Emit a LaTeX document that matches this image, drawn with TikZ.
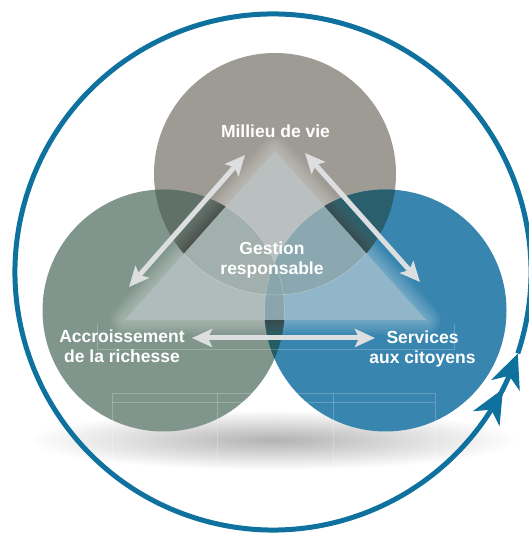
\documentclass[tikz,border=0pt]{standalone}
\usepackage{fontspec}
\setmainfont{Liberation Sans}
\usetikzlibrary{arrows.meta,bending}

\definecolor{ringblue}{RGB}{14,113,158}
\definecolor{viegray}{RGB}{158,155,148}
\definecolor{richgreen}{RGB}{128,150,140}
\definecolor{citblue}{RGB}{56,133,176}
\definecolor{vierich}{RGB}{96,114,104}
\definecolor{viecit}{RGB}{42,96,110}
\definecolor{richcit}{RGB}{38,92,100}
\definecolor{trifill}{RGB}{205,216,220}
\definecolor{linkgray}{RGB}{220,222,224}

\tikzset{
  txt/.style={text=white,font=\bfseries\fontsize{17.5}{20}\selectfont,align=center},
  link/.style={draw=linkgray,line width=5pt,
    {Stealth[length=20pt,width=18pt,inset=4pt]}-{Stealth[length=20pt,width=18pt,inset=4pt]}},
  faint/.style={draw=white,draw opacity=0.22,line width=0.6pt},
  bigring/.style={draw=ringblue,line width=5pt,
    -{Stealth[length=34pt,width=30pt,inset=10pt,sep=5pt]Stealth[length=34pt,width=30pt,inset=10pt]}}
}

\begin{document}
\begin{tikzpicture}[x=1pt,y=1pt]
  \useasboundingbox (0,0) rectangle (528,533);
  \coordinate (ctr) at (273,261);
  \coordinate (vie) at (275,359);
  \coordinate (rich) at (163.5,222.5);
  \coordinate (cit) at (385.5,222.5);
  \coordinate (tri-t) at (275,382);
  \coordinate (tri-l) at (125,213);
  \coordinate (tri-r) at (426,213);

  \shade[inner color=black!30,outer color=white] (273,93) ellipse[x radius=245,y radius=30];

  \fill[viegray] (vie) circle[radius=121];
  \fill[richgreen] (rich) circle[radius=121];
  \fill[citblue] (cit) circle[radius=121];
  \begin{scope}
    \clip (vie) circle[radius=121];
    \fill[vierich] (rich) circle[radius=121];
    \fill[viecit] (cit) circle[radius=121];
  \end{scope}
  \begin{scope}
    \clip (rich) circle[radius=121];
    \fill[richcit] (cit) circle[radius=121];
  \end{scope}

  \draw[faint] (97,209) -- (97,184) -- (454,184) -- (454,209);
  \draw[faint] (112,67) -- (112,140) -- (435,140) -- (435,67);
  \draw[faint] (112,131) -- (435,131);
  \draw[faint] (217,140) -- (217,67);
  \draw[faint] (333,140) -- (333,67);

  \begin{scope}[even odd rule]
    \clip (0,0) rectangle (528,533) (tri-t) -- (tri-l) -- (tri-r) -- cycle;
    \foreach \w in {3,6,...,30}
      \draw[white,opacity=0.035,line width=\w,line join=round] (tri-t) -- (tri-l) -- (tri-r) -- cycle;
    \foreach \a/\b in {vie/rich,vie/cit,rich/cit}{
      \begin{scope}[nonzero rule]
        \clip (\a) circle[radius=121];
        \clip (\b) circle[radius=121];
        \foreach \w in {3,6,...,30}
          \draw[black,opacity=0.055,line width=\w,line join=round] (tri-t) -- (tri-l) -- (tri-r) -- cycle;
      \end{scope}
    }
  \end{scope}

  \fill[trifill,fill opacity=0.6] (tri-t) -- (tri-l) -- (tri-r) -- cycle;
  \begin{scope}
    \clip (tri-t) -- (tri-l) -- (tri-r) -- cycle;
    \foreach \c in {vie,rich,cit}
      \draw[white,draw opacity=0.3,line width=0.5] (\c) circle[radius=121];
  \end{scope}

  \coordinate (rich-ne) at (129,246);
  \coordinate (vie-sw) at (245,378);
  \coordinate (vie-se) at (305,380);
  \coordinate (cit-nw) at (420,251);
  \coordinate (rich-e) at (192,195);
  \coordinate (cit-w) at (375,195);
  \draw[link] (rich-ne) -- (vie-sw);
  \draw[link] (vie-se) -- (cit-nw);
  \draw[link] (rich-e) -- (cit-w);

  \node[txt] (vie-lbl) at (275.5,402) {Millieu de vie};
  \node[txt] (gestion) at (272,273.4) {Gestion\\responsable};
  \node[txt] (rich-lbl) at (122,186.3) {Accroissement\\de la richesse};
  \node[txt] (cit-lbl) at (422.5,184.4) {Services\\aux citoyens};

  \draw[bigring] ([shift={(-18.4:258)}]ctr) arc[start angle=-18.4,end angle=341.6,radius=258];
\end{tikzpicture}
\end{document}
